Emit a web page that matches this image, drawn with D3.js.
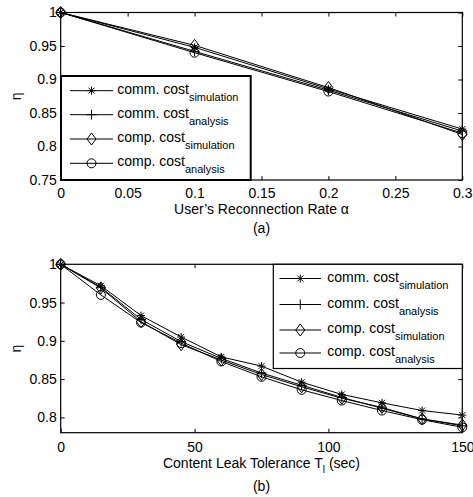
<!DOCTYPE html>
<html><head><meta charset="utf-8">
<script src="https://cdn.jsdelivr.net/npm/d3@7/dist/d3.min.js"></script>
<style>
body{margin:0;background:#fff;}
svg{display:block;font-family:"Liberation Sans",Arial,Helvetica,sans-serif;}
</style></head>
<body><svg id="c" width="473" height="497"></svg>
<script>
// ---- data: panel (a)
const alphaVals = [0, 0.1, 0.2, 0.3];
const aCommSim = [1, 0.948, 0.886, 0.826];
const aCommAna = [1, 0.942, 0.884, 0.823];
const aCompSim = [1, 0.951, 0.888, 0.818];
const aCompAna = [1, 0.940, 0.882, 0.820];
const aXTicks = [0, 0.05, 0.1, 0.15, 0.2, 0.25, 0.3];
const aYTicks = [0.75, 0.8, 0.85, 0.9, 0.95, 1];
// ---- data: panel (b)
const tVals = [0, 15, 30, 45, 60, 75, 90, 105, 120, 135, 150];
const bCommSim = [1, 0.972, 0.933, 0.905, 0.879, 0.867, 0.846, 0.830, 0.819, 0.809, 0.803];
const bCommAna = [1, 0.970, 0.928, 0.899, 0.877, 0.858, 0.842, 0.826, 0.812, 0.798, 0.789];
const bCompSim = [1, 0.969, 0.925, 0.895, 0.875, 0.856, 0.840, 0.825, 0.813, 0.798, 0.790];
const bCompAna = [1, 0.960, 0.924, 0.897, 0.873, 0.853, 0.836, 0.822, 0.809, 0.797, 0.787];
const bXTicks = [0, 50, 100, 150];
const bYTicks = [0.8, 0.85, 0.9, 0.95, 1];
const seriesNames = ["comm. cost", "comm. cost", "comp. cost", "comp. cost"];
const seriesSubs = ["simulation", "analysis", "simulation", "analysis"];
const seriesMarkers = ["star", "plus", "diamond", "circle"];

const svg = d3.select("#c");
const FONT = 14;

function marker(g, type, x, y) {
  const s = g.append("g").attr("transform", `translate(${x},${y})`)
    .attr("fill", "none").attr("stroke", "#000").attr("stroke-width", 1);
  if (type === "star") {
    s.append("path").attr("d", "M-4,0H4M0,-4V4M-3,-3L3,3M-3,3L3,-3");
  } else if (type === "plus") {
    s.append("path").attr("d", "M-5,0H5M0,-5V5");
  } else if (type === "diamond") {
    s.append("path").attr("d", "M0,-6L4.5,0L0,6L-4.5,0Z");
  } else {
    s.append("circle").attr("r", 4.5);
  }
}

function panel(o) {
  const x = d3.scaleLinear().domain(o.xDom).range([o.left, o.right]);
  const y = d3.scaleLinear().domain(o.yDom).range([o.bottom, o.top]);
  const g = svg.append("g");
  const tick = 4;
  const ax = (sel) => { sel.select(".domain").remove(); sel.selectAll("line").attr("stroke", "#000"); };
  g.append("g").attr("transform", `translate(0,${o.bottom})`)
    .call(d3.axisBottom(x).tickValues(o.xTicks).tickFormat(d3.format("")).tickSizeInner(-tick).tickSizeOuter(0).tickPadding(o.xPad))
    .call(ax).selectAll("text").attr("font-size", FONT).attr("fill", "#000").attr("font-family", "inherit");
  g.append("g").attr("transform", `translate(0,${o.top})`)
    .call(d3.axisTop(x).tickValues(o.xTicks).tickFormat("").tickSizeInner(-tick).tickSizeOuter(0)).call(ax);
  g.append("g").attr("transform", `translate(${o.left},0)`)
    .call(d3.axisLeft(y).tickValues(o.yTicks).tickFormat(d3.format("")).tickSizeInner(-tick).tickSizeOuter(0).tickPadding(4))
    .call(ax).selectAll("text").attr("font-size", FONT).attr("fill", "#000").attr("font-family", "inherit");
  g.append("g").attr("transform", `translate(${o.right},0)`)
    .call(d3.axisRight(y).tickValues(o.yTicks).tickFormat("").tickSizeInner(-tick).tickSizeOuter(0)).call(ax);
  g.selectAll(".tick text").attr("font-family", "inherit");

  // data
  const line = d3.line().x(d => x(d[0])).y(d => y(d[1]));
  o.series.forEach((vals, i) => {
    const pts = o.xs.map((xv, j) => [xv, vals[j]]);
    g.append("path").attr("d", line(pts)).attr("fill", "none").attr("stroke", "#000").attr("stroke-width", 1);
    pts.forEach(p => marker(g, seriesMarkers[i], x(p[0]), y(p[1])));
  });

  // box
  g.append("rect").attr("x", o.left).attr("y", o.top).attr("width", o.right - o.left).attr("height", o.bottom - o.top)
    .attr("fill", "none").attr("stroke", "#000").attr("stroke-width", 1.2);

  // legend
  const L = o.legend;
  g.append("rect").attr("x", L.x0).attr("y", L.y0).attr("width", L.x1 - L.x0).attr("height", L.y1 - L.y0)
    .attr("fill", "#fff").attr("stroke", "#000").attr("stroke-width", L.sw);
  seriesNames.forEach((nm, i) => {
    const ry = L.rows[i];
    g.append("line").attr("x1", L.lx0).attr("x2", L.lx1).attr("y1", ry).attr("y2", ry).attr("stroke", "#000").attr("stroke-width", 1);
    marker(g, seriesMarkers[i], (L.lx0 + L.lx1) / 2, ry);
    const t = g.append("text").attr("x", L.tx).attr("y", ry + 3).attr("font-size", FONT).attr("fill", "#000");
    t.append("tspan").text(nm);
    t.append("tspan").attr("dy", 7).attr("font-size", 11).text(seriesSubs[i]);
  });

  // labels
  const xl = g.append("text").attr("x", (o.left + o.right) / 2).attr("y", o.xLabelY).attr("text-anchor", "middle").attr("font-size", FONT).attr("fill", "#000");
  o.xLabel(xl);
  g.append("text").attr("x", (o.left + o.right) / 2).attr("y", o.capY).attr("text-anchor", "middle").attr("font-size", FONT).attr("fill", "#000").text(o.cap);
  g.append("text").attr("transform", `translate(21,${(o.top + o.bottom) / 2}) rotate(-90)`).attr("text-anchor", "middle")
    .attr("font-size", FONT).attr("fill", "#000").text("η");
}

panel({
  xDom: [0, 0.3], yDom: [0.75, 1], left: 60.7, right: 462.3, top: 12.5, bottom: 180,
  xTicks: aXTicks, yTicks: aYTicks, xPad: 8, xs: alphaVals,
  series: [aCommSim, aCommAna, aCompSim, aCompAna],
  legend: { x0: 61, y0: 76, x1: 250.7, y1: 180, sw: 2, rows: [90.7, 114.7, 139, 163.3], lx0: 70, lx1: 113, tx: 117.3 },
  xLabelY: 214, capY: 233, cap: "(a)",
  xLabel: t => { t.append("tspan").text("User\u2019s Reconnection Rate "); t.append("tspan").text("\u03b1"); }
});

panel({
  xDom: [0, 150], yDom: [0.78, 1], left: 60.7, right: 462.3, top: 264.3, bottom: 432.7,
  xTicks: bXTicks, yTicks: bYTicks, xPad: 9, xs: tVals,
  series: [bCommSim, bCommAna, bCompSim, bCompAna],
  legend: { x0: 273.3, y0: 264.3, x1: 462.3, y1: 368.5, sw: 1.2, rows: [278.5, 304.5, 330, 353], lx0: 279.5, lx1: 321, tx: 327.3 },
  xLabelY: 468, capY: 491, cap: "(b)",
  xLabel: t => { t.append("tspan").text("Content Leak Tolerance T"); t.append("tspan").attr("dy", 5).attr("font-size", 10).text("l"); t.append("tspan").attr("dy", -5).text(" (sec)"); }
});
</script></body></html>
